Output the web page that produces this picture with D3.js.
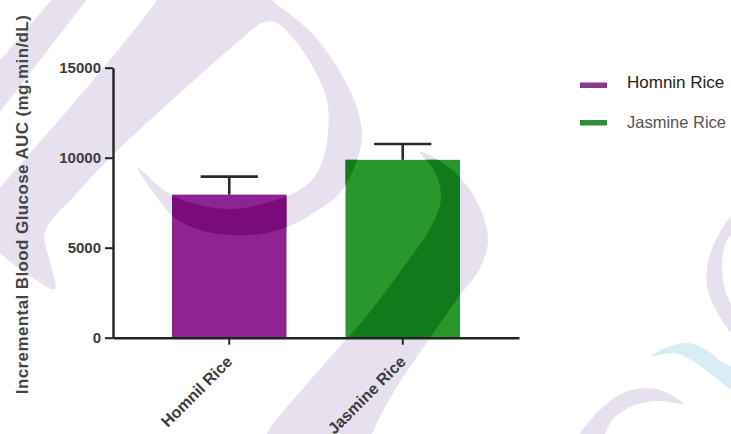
<!DOCTYPE html>
<html><head><meta charset="utf-8">
<script src="https://cdn.jsdelivr.net/npm/d3@7"></script>
<style>body{margin:0;background:#fff}svg{display:block}</style>
</head><body>
<svg id="chart" width="731" height="434"></svg>
<script>
// ---- data ----
const categories = ["Homnil Rice", "Jasmine Rice"];
const seriesNames = ["Homnin Rice", "Jasmine Rice"];
const meanValues = [7950, 9880];
const errorValues = [1000, 880];
const yTickValues = [0, 5000, 10000, 15000];
const yTitle = "Incremental Blood Glucose AUC (mg.min/dL)";
const barColors = ["#8f2391", "#29972b"];
const barDarkColors = ["#7a0b7d", "#137a1c"];
const legendColors = ["#8a3a8e", "#2f8d36"];

// ---- decorative background watermark outlines ----
const wmLavender = [
  [[138,168],[173,196],[230,209],[287,196],[310,182],[323,160],[328,133],[327,100],[313,67],[293,38],[275,22],[262,23],[240,40],[200,75],[150,120],[113,155],[75,195],[45,232],
   [50,262],[55,289],[30,276],[0,253],[-25,225],
   [0,188],[33,150],[100,72],[150,10],[180,-30],[250,-30],
   [272,0],[295,18],[318,40],[340,72],[356,105],[362,135],[354,168],[338,195],[315,212],[290,226],[260,234],[230,235],[200,230],[175,218],[155,195]],
  [[420,152],[450,168],[475,198],[488,238],[480,268],[458,298],[425,345],[395,390],[372,434],[365,460],[262,460],[267,434],[300,392],[335,352],[365,318],[400,272],[432,225],[441,198],[435,172]],
  [[735,212],[720,232],[709,258],[707,285],[716,310],[735,336],[733,310],[725,290],[722,265],[726,242],[735,228]],
  [[684,404],[657,389],[628,391],[604,406],[578,440],[600,440],[613,419],[635,405],[661,401]]
];
const wmStraight = [[[53,-2],[88,-2],[0,112],[-10,125],[-10,72]]];
const wmBlue = [[[652,356],[668,347],[688,343],[705,349],[722,362],[735,370],[735,390],[712,375],[693,361],[673,353]]];

const svg = d3.select("#chart");
const smooth = d3.line().curve(d3.curveCatmullRomClosed.alpha(0.5));
const straight = d3.line().curve(d3.curveLinearClosed);

const x = d3.scaleBand().domain(categories).range([113, 519]).paddingInner(0.34).paddingOuter(0.34);
const y = d3.scaleLinear().domain([0, 15000]).range([337.7, 67.7]);

// watermark background
const bg = svg.append("g");
bg.selectAll("path.lav").data(wmLavender).join("path").attr("d", smooth).attr("fill", "#e7e1ef");
bg.selectAll("path.str").data(wmStraight).join("path").attr("d", straight).attr("fill", "#e7e1ef");
bg.selectAll("path.blue").data(wmBlue).join("path").attr("d", smooth).attr("fill", "#daedf7");

// bars
const defs = svg.append("defs");
categories.forEach((c, i) => {
  defs.append("clipPath").attr("id", "clip" + i).append("rect")
    .attr("x", x(c)).attr("y", y(meanValues[i]))
    .attr("width", x.bandwidth()).attr("height", y(0) - y(meanValues[i]));
});
const bars = svg.append("g");
bars.selectAll("rect").data(categories).join("rect")
  .attr("x", d => x(d)).attr("y", (d, i) => y(meanValues[i]))
  .attr("width", x.bandwidth()).attr("height", (d, i) => y(0) - y(meanValues[i]))
  .attr("fill", (d, i) => barColors[i]);
categories.forEach((c, i) => {
  const g = svg.append("g").attr("clip-path", `url(#clip${i})`);
  g.selectAll("path").data(wmLavender).join("path").attr("d", smooth).attr("fill", barDarkColors[i]);
});

// error bars
const eb = svg.append("g").attr("stroke", "#2b2b2b").attr("stroke-width", 2.6).attr("fill", "none");
categories.forEach((c, i) => {
  const cx = x(c) + x.bandwidth() / 2;
  const top = y(meanValues[i] + errorValues[i]);
  eb.append("line").attr("x1", cx).attr("x2", cx).attr("y1", y(meanValues[i])).attr("y2", top);
  eb.append("line").attr("x1", cx - x.bandwidth() / 4).attr("x2", cx + x.bandwidth() / 4).attr("y1", top).attr("y2", top);
});

// y axis
const yAxis = svg.append("g").attr("transform", "translate(113,0)")
  .call(d3.axisLeft(y).tickValues(yTickValues).tickSize(8).tickSizeOuter(0).tickPadding(4).tickFormat(d3.format("d")));
yAxis.select(".domain").attr("stroke", "#222").attr("stroke-width", 2.4);
yAxis.selectAll(".tick line").attr("stroke", "#222").attr("stroke-width", 2);
yAxis.selectAll(".tick text").attr("font-family", "Liberation Sans, Arial, sans-serif")
  .attr("font-size", 15).attr("font-weight", "bold").attr("fill", "#3c3c3c");

// x axis
const xAxis = svg.append("g").attr("transform", `translate(0,${y(0)})`)
  .call(d3.axisBottom(x).tickSize(7).tickSizeOuter(0).tickPadding(4));
xAxis.select(".domain").attr("stroke", "#222").attr("stroke-width", 2.4);
xAxis.selectAll(".tick line").attr("stroke", "#222").attr("stroke-width", 2);
xAxis.selectAll(".tick text")
  .attr("font-family", "Liberation Sans, Arial, sans-serif").attr("font-size", 16).attr("font-weight", "bold")
  .attr("fill", "#3c3c3c").attr("text-anchor", "end")
  .attr("dy", 0).attr("y", 0)
  .attr("transform", "translate(4,25) rotate(-45)");

// y title
svg.append("text")
  .attr("transform", `translate(28,${(14 + 395) / 2}) rotate(-90)`)
  .attr("text-anchor", "middle")
  .attr("font-family", "Liberation Sans, Arial, sans-serif").attr("font-size", 17).attr("font-weight", "bold")
  .attr("letter-spacing", 0.4)
  .attr("fill", "#454545").text(yTitle);

// legend
const legend = svg.append("g");
seriesNames.forEach((s, i) => {
  const ly = 85 + i * 37.5;
  legend.append("rect").attr("x", 580).attr("y", ly - 2.5).attr("width", 27).attr("height", 5.5).attr("fill", legendColors[i]);
  legend.append("text").attr("x", 627).attr("y", ly + 3 + i * 2)
    .attr("font-family", "Liberation Sans, Arial, sans-serif").attr("font-size", 16.5 + (i === 0 ? 0.5 : 0))
    .attr("fill", i === 0 ? "#1e1e1e" : "#555").text(s);
});
</script>
</body></html>
